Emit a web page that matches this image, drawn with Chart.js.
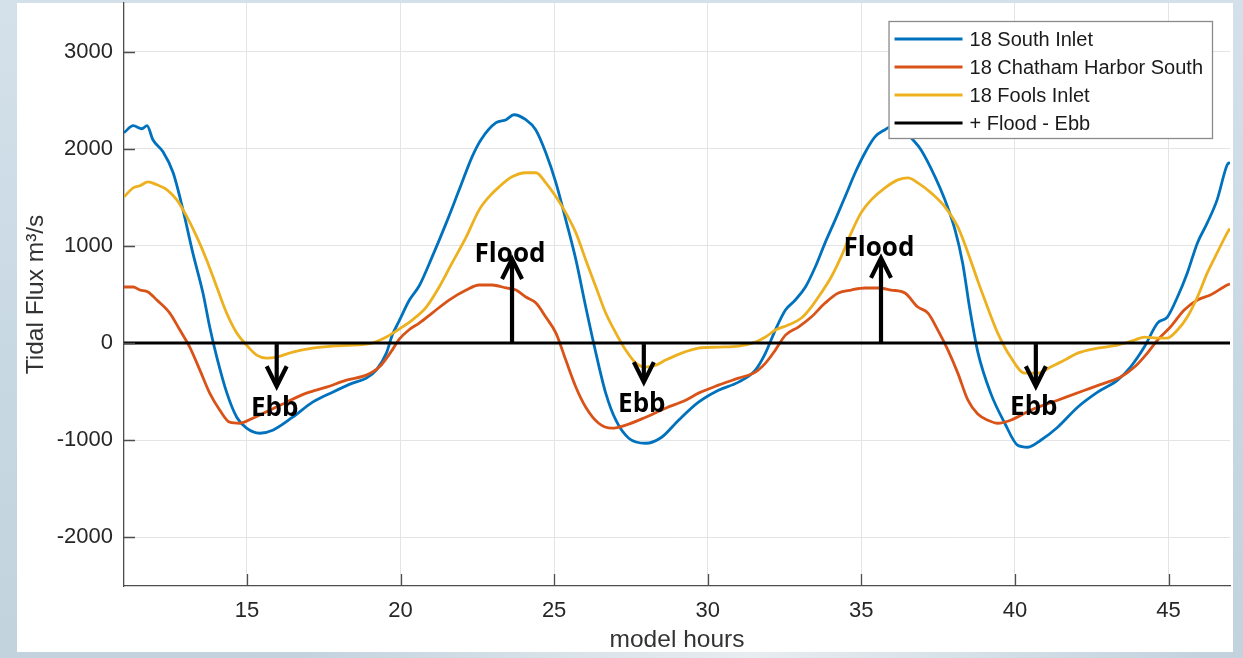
<!DOCTYPE html>
<html><head><meta charset="utf-8">
<script src="https://cdn.jsdelivr.net/npm/chart.js@4"></script>
<style>
html,body{margin:0;padding:0;width:1243px;height:658px;overflow:hidden;}
body{position:relative;background:linear-gradient(180deg,#d4e1ea 0%,#c8d8e3 55%,#c3d3de 100%);}
#cloud{position:absolute;left:300px;top:640px;width:900px;height:18px;background:linear-gradient(90deg,rgba(255,255,255,0) 0%,rgba(235,240,243,0.9) 50%,rgba(255,255,255,0) 100%);}
#panel{position:absolute;left:17px;top:3px;width:1216px;height:649px;background:#fff;}
#c{position:absolute;left:0;top:0;}
</style></head><body>
<div id="cloud"></div>
<div id="panel"></div>
<canvas id="c" width="1243" height="658"></canvas>
<script>
// ---------- data ----------
const seriesNames = ['18 South Inlet', '18 Chatham Harbor South', '18 Fools Inlet', '+ Flood - Ebb'];
const xTicks = [15, 20, 25, 30, 35, 40, 45];
const yTicks = [-2000, -1000, 0, 1000, 2000, 3000];

const southHours = [11.0,11.3,11.58,11.75,11.94,12.27,12.6,12.92,13.24,13.57,13.79,14.02,14.35,14.67,14.99,15.42,15.84,16.49,17.14,17.79,18.44,18.89,19.21,19.54,19.73,19.96,20.29,20.61,21.03,21.49,21.91,22.33,22.62,23.11,23.44,23.69,24.08,24.4,24.73,25.06,25.38,25.71,26.03,26.36,26.68,27.01,27.43,27.98,28.5,29.05,29.7,30.35,31.0,31.55,31.88,32.2,32.53,32.85,33.18,33.5,33.82,34.15,34.47,34.8,35.12,35.45,35.77,36.2,36.62,36.94,37.4,37.72,38.05,38.3,38.52,38.79,39.21,39.67,40.09,40.42,40.84,41.39,42.04,42.69,43.34,43.76,44.21,44.64,44.96,45.29,45.61,45.94,46.26,46.58,46.91,47.0];
const southFlux  = [2165,2237,2206,2237,2093,1969,1753,1371,928,515,165,-144,-515,-763,-876,-928,-897,-763,-608,-505,-412,-361,-278,-103,80,230,443,590,887,1237,1577,1917,2093,2268,2299,2350,2299,2196,1959,1649,1268,856,371,-103,-515,-794,-979,-1031,-969,-794,-608,-485,-402,-278,-103,134,340,443,577,783,1031,1268,1505,1753,1959,2124,2196,2260,2113,1990,1711,1474,1165,820,371,-90,-515,-825,-1052,-1072,-1000,-866,-660,-505,-381,-247,-41,206,268,474,722,1031,1237,1474,1835,1860];

const chathamHours = [11.0,11.3,11.52,11.78,12.07,12.49,12.82,13.14,13.47,13.79,14.12,14.44,14.77,15.19,15.74,16.29,16.94,17.59,18.24,18.89,19.31,19.73,19.96,20.29,20.61,21.03,21.58,22.14,22.56,22.98,23.44,23.76,24.08,24.41,24.73,25.06,25.38,25.71,26.03,26.45,26.88,27.33,27.98,28.63,29.28,29.7,30.35,31.0,31.55,31.88,32.2,32.53,32.95,33.37,33.82,34.25,34.67,35.12,35.55,35.97,36.42,36.84,37.17,37.49,37.82,38.14,38.47,38.79,39.12,39.44,39.86,40.51,41.39,42.27,42.92,43.44,43.89,44.31,44.64,45.06,45.51,45.94,46.36,46.91,47.0];
const chathamFlux  = [577,577,546,526,443,309,134,-41,-278,-515,-691,-814,-825,-773,-691,-608,-515,-454,-381,-330,-247,-72,40,140,206,309,443,546,598,598,567,546,474,412,268,103,-175,-454,-660,-825,-876,-845,-763,-670,-588,-515,-433,-361,-299,-206,-72,82,165,268,412,515,546,567,567,546,515,371,309,134,-72,-309,-588,-730,-794,-825,-794,-691,-588,-485,-412,-350,-247,-103,31,165,340,443,495,598,610];

const foolsHours = [11.0,11.3,11.52,11.78,12.07,12.4,12.72,13.05,13.37,13.69,14.02,14.34,14.67,14.99,15.32,15.64,15.97,16.49,17.14,17.79,18.44,19.08,19.54,19.96,20.38,20.84,21.26,21.68,22.14,22.56,22.88,23.21,23.63,24.08,24.41,24.73,25.06,25.38,25.71,26.03,26.36,26.68,27.01,27.33,27.66,27.98,28.31,28.63,29.15,29.7,30.35,31.0,31.55,31.88,32.2,32.62,33.05,33.37,33.69,34.02,34.34,34.67,34.99,35.32,35.77,36.19,36.52,36.84,37.27,37.72,38.14,38.47,38.79,39.02,39.44,39.86,40.32,40.74,41.16,41.62,42.04,42.69,43.34,43.89,44.21,44.64,44.96,45.29,45.61,45.94,46.26,46.58,46.91,47.0];
const foolsFlux  = [1505,1598,1619,1660,1629,1577,1474,1299,1093,856,577,309,103,-21,-124,-155,-144,-93,-52,-31,-21,0,62,145,237,371,577,825,1093,1371,1505,1608,1711,1753,1753,1649,1505,1340,1134,856,577,309,103,-72,-206,-247,-227,-175,-103,-52,-41,-31,10,62,134,186,258,371,515,680,887,1134,1340,1474,1598,1680,1701,1649,1546,1402,1196,930,640,443,103,-144,-309,-309,-247,-175,-103,-52,-21,31,62,52,52,134,268,474,722,928,1134,1180];

const zeroHours = [11, 47];
const zeroFlux  = [0, 0];

// annotations (data units)
const floodArrowHours = [23.63, 35.64];
const floodArrowTip   = [876, 887];
const floodLabelFlux  = [835, 897];
const ebbArrowHours   = [15.97, 27.92, 40.68];
const ebbArrowTip     = [-454, -412, -454];
const ebbLabelFlux    = [-753, -711, -742];

// ---------- chart ----------
const FAMILY = '"Liberation Sans", Arial, Helvetica, sans-serif';
const colors = ['#0072BD', '#D95319', '#EDB120', '#000000'];
const pts = (xs, ys) => xs.map((v, i) => ({x: v, y: ys[i]}));

const innerTicks = {
  id: 'innerTicks',
  afterDatasetsDraw(chart) {
    const {ctx, chartArea: a, scales: {x, y}} = chart;
    ctx.save();
    ctx.strokeStyle = '#4d4d4d';
    ctx.lineWidth = 1.3;
    ctx.beginPath();
    x.ticks.forEach(t => { const p = Math.round(x.getPixelForValue(t.value)) + 0.5; ctx.moveTo(p, a.bottom); ctx.lineTo(p, a.bottom - 12); });
    y.ticks.forEach(t => { const p = Math.round(y.getPixelForValue(t.value)) + 0.5; ctx.moveTo(a.left, p); ctx.lineTo(a.left + 11, p); });
    ctx.stroke();
    ctx.restore();
  }
};

const arrows = {
  id: 'arrows',
  afterDatasetsDraw(chart) {
    const {ctx, scales: {x, y}} = chart;
    ctx.save();
    ctx.strokeStyle = '#000';
    ctx.fillStyle = '#000';
    ctx.lineWidth = 4.2;
    ctx.lineJoin = 'miter';
    ctx.lineCap = 'butt';
    const draw = (h, tip, dir) => {
      const px = x.getPixelForValue(h);
      const y0 = y.getPixelForValue(0);
      const yt = y.getPixelForValue(tip);
      ctx.beginPath();
      ctx.moveTo(px, y0 - dir * 1);
      ctx.lineTo(px, yt + dir * 3);
      ctx.stroke();
      ctx.beginPath();
      ctx.moveTo(px - 10, yt + dir * 21);
      ctx.lineTo(px, yt + dir * 1);
      ctx.lineTo(px + 10, yt + dir * 21);
      ctx.stroke();
    };
    floodArrowHours.forEach((h, i) => draw(h, floodArrowTip[i], 1));
    ebbArrowHours.forEach((h, i) => draw(h, ebbArrowTip[i], -1));
    ctx.font = 'bold 26px "Open Sans", Lato, sans-serif';
    ctx.textAlign = 'center';
    ctx.textBaseline = 'alphabetic';
    floodArrowHours.forEach((h, i) => ctx.fillText('Flood', x.getPixelForValue(h) - 2, y.getPixelForValue(floodLabelFlux[i])));
    ebbArrowHours.forEach((h, i) => ctx.fillText('Ebb', x.getPixelForValue(h) - 2, y.getPixelForValue(ebbLabelFlux[i])));
    ctx.restore();
  }
};

const boxLegend = {
  id: 'boxLegend',
  afterDraw(chart) {
    const {ctx, chartArea: a} = chart;
    const ds = chart.data.datasets;
    ctx.save();
    ctx.font = '20px ' + FAMILY;
    const maxW = Math.max(...ds.map(d => ctx.measureText(d.label).width));
    const w = 81 + maxW + 9, h = 117;
    const right = a.right - 18, top = a.top + 18, left = right - w;
    ctx.fillStyle = '#fff';
    ctx.fillRect(left, top, w, h);
    ctx.strokeStyle = '#8a8a8a';
    ctx.lineWidth = 1.3;
    ctx.strokeRect(left + 0.5, top + 0.5, w, h);
    ds.forEach((d, i) => {
      const yy = top + 18 + i * 28;
      ctx.strokeStyle = d.borderColor;
      ctx.lineWidth = 3;
      ctx.beginPath();
      ctx.moveTo(left + 6, yy);
      ctx.lineTo(left + 74, yy);
      ctx.stroke();
      ctx.fillStyle = '#1a1a1a';
      ctx.textBaseline = 'middle';
      ctx.textAlign = 'left';
      ctx.fillText(d.label, left + 81, yy + 1);
    });
    ctx.restore();
  }
};

const tickFont = {family: FAMILY, size: 22};
const plain = v => String(v);

new Chart(document.getElementById('c'), {
  type: 'line',
  data: {
    datasets: [
      {label: seriesNames[0], data: pts(southHours, southFlux), borderColor: colors[0], borderWidth: 2.8, order: 3},
      {label: seriesNames[1], data: pts(chathamHours, chathamFlux), borderColor: colors[1], borderWidth: 2.8, order: 2},
      {label: seriesNames[2], data: pts(foolsHours, foolsFlux), borderColor: colors[2], borderWidth: 2.8, order: 1},
      {label: seriesNames[3], data: pts(zeroHours, zeroFlux), borderColor: colors[3], borderWidth: 3, order: 0}
    ]
  },
  options: {
    responsive: false,
    animation: false,
    layout: {padding: {left: 17, top: 3, right: 13, bottom: 6}},
    elements: {
      point: {radius: 0, hoverRadius: 0},
      line: {cubicInterpolationMode: 'monotone', fill: false, borderCapStyle: 'butt'}
    },
    plugins: {legend: {display: false}, tooltip: {enabled: false}},
    events: [],
    scales: {
      x: {
        type: 'linear', min: 11, max: 47, bounds: 'data',
        afterBuildTicks: s => { s.ticks = xTicks.map(v => ({value: v})); },
        afterFit: s => { s.height = 66; s.paddingLeft = 0; s.paddingRight = 0; },
        ticks: {font: tickFont, color: '#262626', padding: 12, maxRotation: 0, autoSkip: false, callback: plain},
        grid: {color: '#e4e4e4', lineWidth: 1, drawTicks: false},
        border: {color: '#4d4d4d', width: 1.3},
        title: {display: true, text: 'model hours', color: '#333333', font: {family: FAMILY, size: 24.5, lineHeight: 1}, padding: {top: 0, bottom: 0}}
      },
      y: {
        type: 'linear', min: -2500, max: 3500, bounds: 'data',
        afterBuildTicks: s => { s.ticks = yTicks.map(v => ({value: v})); },
        afterFit: s => { s.width = 107; s.paddingTop = 0; s.paddingBottom = 0; },
        ticks: {font: tickFont, color: '#262626', padding: 11, callback: plain},
        grid: {color: '#e4e4e4', lineWidth: 1, drawTicks: false},
        border: {color: '#4d4d4d', width: 1.3},
        title: {display: true, text: 'Tidal Flux m\u00B3/s', color: '#333333', font: {family: FAMILY, size: 24.5, lineHeight: 1.2}, padding: {top: 5, bottom: 0}}
      }
    }
  },
  plugins: [innerTicks, arrows, boxLegend]
});
</script></body></html>
